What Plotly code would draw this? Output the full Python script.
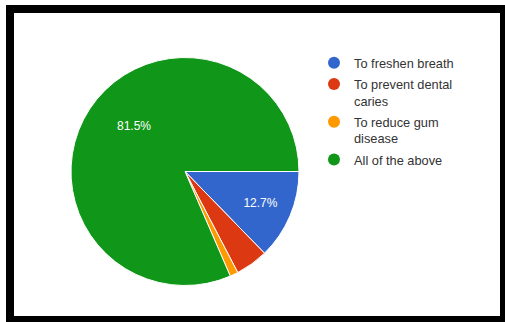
import math
import plotly.graph_objects as go

labels = ["To freshen breath", "To prevent dental caries", "To reduce gum disease", "All of the above"]
legend_labels = ["To freshen breath", "To prevent dental<br>caries", "To reduce gum<br>disease", "All of the above"]
counts = [22, 8, 2, 141]
colors = ["#3366CC", "#DC3912", "#FF9900", "#109618"]
show_pct = [True, False, False, False]   # pie-drawn labels
ann_pct = [False, False, False, True]    # labels placed as annotations

W, H = 505, 322
CX, CY, R = 185, 171.5, 114

def px(x):
    return x / W

def py(y):
    return 1 - y / H

total = sum(counts)

fig = go.Figure()
fig.add_trace(go.Pie(
    labels=labels,
    values=counts,
    sort=False,
    direction="clockwise",
    rotation=90,
    marker=dict(colors=colors, line=dict(color="white", width=1)),
    texttemplate=["%{percent:.1%}" if s else "" for s in show_pct],
    textposition="inside",
    insidetextorientation="horizontal",
    textfont=dict(color="white", size=12, family="Liberation Sans"),
    showlegend=False,
    hoverinfo="label+percent",
    domain=dict(x=[px(CX - R), px(CX + R)], y=[py(CY + R), py(CY - R)]),
))

annotations = []
cum = 0
for c, a in zip(counts, ann_pct):
    f0 = cum / total
    cum += c
    f1 = cum / total
    if a:
        th = math.radians((f0 + f1) / 2 * 360)
        ax = CX + 0.73 * R * math.cos(th)
        ay = CY + 0.73 * R * math.sin(th)
        annotations.append(dict(
            x=px(ax), y=py(ay), xref="paper", yref="paper",
            text=f"{c / total * 100:.1f}%", showarrow=False,
            font=dict(color="white", size=12, family="Liberation Sans"),
        ))

for i, (lab, col) in enumerate(zip(legend_labels, colors)):
    fig.add_trace(go.Scatter(
        x=[None], y=[None], mode="markers", name=lab,
        legendgroup=f"g{i}",
        marker=dict(color=col, size=12, symbol="circle"),
        showlegend=True,
    ))

fig.update_layout(
    width=W, height=H,
    margin=dict(l=0, r=0, t=0, b=0),
    paper_bgcolor="white",
    plot_bgcolor="rgba(0,0,0,0)",
    xaxis=dict(visible=False),
    yaxis=dict(visible=False),
    legend=dict(
        x=px(314), y=py(48), xanchor="left", yanchor="top",
        font=dict(family="Liberation Sans", size=12.8, color="#333333"),
        valign="top",
        bgcolor="rgba(0,0,0,0)",
        tracegroupgap=1.5,
    ),
    annotations=annotations,
    shapes=[
        dict(type="rect", xref="paper", yref="paper",
             x0=px(6), x1=px(505), y0=py(322), y1=py(5),
             fillcolor="black", line=dict(width=0), layer="below"),
        dict(type="rect", xref="paper", yref="paper",
             x0=px(14), x1=px(500), y0=py(316), y1=py(13),
             fillcolor="white", line=dict(width=0), layer="below"),
    ],
)

fig.write_html("out.html")
